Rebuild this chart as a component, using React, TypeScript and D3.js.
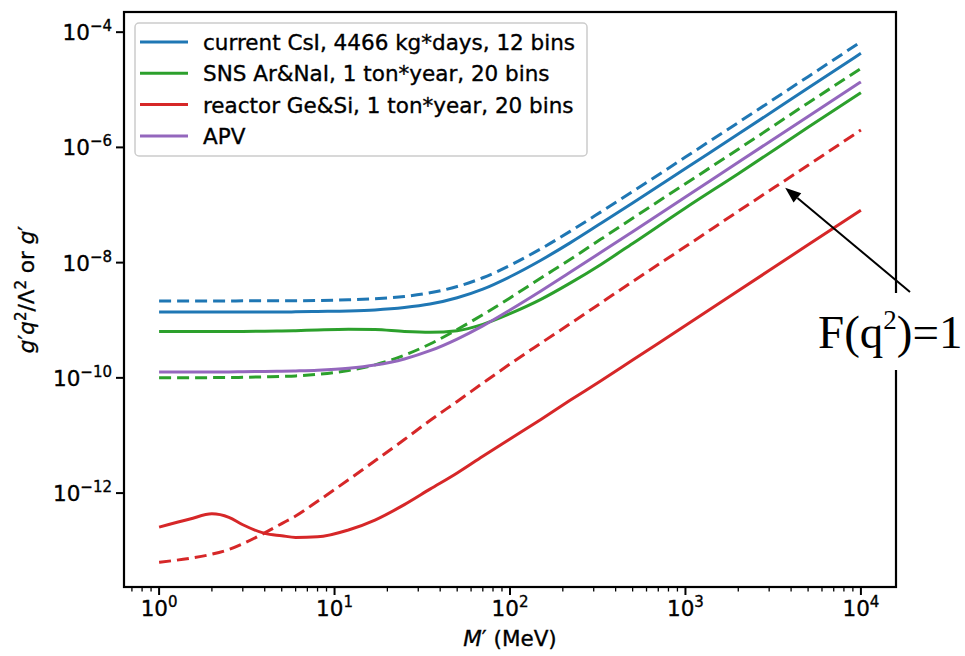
import React from 'react';
import * as d3 from 'd3';

// M' grid (MeV)
const massMeV = [1, 1.5, 2, 2.5, 3, 4, 5, 6, 8, 12, 17, 25, 35, 50, 70, 100, 150, 220, 330, 500, 1000, 2000, 5000, 10000];

const csiSolid = [1.39e-9, 1.39e-9, 1.39e-9, 1.39e-9, 1.39e-9, 1.39e-9, 1.39e-9, 1.40e-9, 1.42e-9, 1.45e-9, 1.51e-9, 1.66e-9, 1.91e-9, 2.46e-9, 3.47e-9, 5.69e-9, 1.10e-8, 2.2e-8, 4.81e-8, 1.08e-7, 4.3e-7, 1.7e-6, 1.07e-5, 4.3e-5];
const csiDashed = [2.16e-9, 2.16e-9, 2.16e-9, 2.16e-9, 2.17e-9, 2.17e-9, 2.17e-9, 2.18e-9, 2.20e-9, 2.26e-9, 2.36e-9, 2.58e-9, 2.99e-9, 3.85e-9, 5.46e-9, 8.96e-9, 1.74e-8, 3.49e-8, 7.6e-8, 1.71e-7, 6.8e-7, 2.7e-6, 1.69e-5, 6.8e-5];
const snsSolid = [6.4e-10, 6.4e-10, 6.4e-10, 6.4e-10, 6.4e-10, 6.45e-10, 6.5e-10, 6.6e-10, 6.8e-10, 7.0e-10, 6.9e-10, 6.4e-10, 6.2e-10, 6.6e-10, 8.5e-10, 1.3e-9, 2.3e-9, 4.4e-9, 9.3e-9, 2.15e-8, 8.9e-8, 3.5e-7, 2.23e-6, 8.9e-6];
const snsDashed = [1.0e-10, 1.0e-10, 1.01e-10, 1.01e-10, 1.02e-10, 1.04e-10, 1.06e-10, 1.08e-10, 1.15e-10, 1.34e-10, 1.68e-10, 2.47e-10, 3.87e-10, 6.9e-10, 1.25e-9, 2.44e-9, 5.4e-9, 1.13e-8, 2.56e-8, 5.9e-8, 2.34e-7, 9.3e-7, 5.9e-6, 2.34e-5];
const reactorSolid = [2.57e-13, 3.55e-13, 4.37e-13, 3.8e-13, 2.82e-13, 2.0e-13, 1.82e-13, 1.7e-13, 1.74e-13, 2.29e-13, 3.4e-13, 6.3e-13, 1.17e-12, 2.24e-12, 4.37e-12, 8.7e-12, 1.9e-11, 4.07e-11, 8.9e-11, 2.04e-10, 8.1e-10, 3.24e-9, 2.04e-8, 8.1e-8];
const reactorDashed = [6.3e-14, 7.4e-14, 8.7e-14, 1.05e-13, 1.32e-13, 2.04e-13, 2.95e-13, 4.0e-13, 7.2e-13, 1.7e-12, 3.63e-12, 8.5e-12, 1.82e-11, 3.9e-11, 8.1e-11, 1.74e-10, 4.0e-10, 8.7e-10, 2.0e-9, 4.7e-9, 1.9e-8, 7.8e-8, 4.9e-7, 2.0e-6];
const apv = [1.27e-10, 1.27e-10, 1.27e-10, 1.27e-10, 1.28e-10, 1.29e-10, 1.30e-10, 1.32e-10, 1.36e-10, 1.47e-10, 1.67e-10, 2.13e-10, 2.96e-10, 4.72e-10, 8.0e-10, 1.51e-9, 3.23e-9, 6.8e-9, 1.51e-8, 3.45e-8, 1.38e-7, 5.5e-7, 3.45e-6, 1.37e-5];

const legendLabels = [
  'current CsI, 4466 kg*days, 12 bins',
  'SNS Ar&NaI, 1 ton*year, 20 bins',
  'reactor Ge&Si, 1 ton*year, 20 bins',
  'APV',
];
const legendColors = ['#1f77b4', '#2ca02c', '#d62728', '#9467bd'];

const xTickExps = [0, 1, 2, 3, 4];
const yTickExps = [-4, -6, -8, -10, -12];

const W = 965;
const H = 656;
const L = 124, R = 896, T = 12, B = 587;

export default function App() {
  const x = d3.scaleLog().domain([Math.pow(10, -0.2), Math.pow(10, 4.2)]).range([L, R]);
  const y = d3.scaleLog().domain([Math.pow(10, -13.63), Math.pow(10, -3.65)]).range([B, T]);

  const line = (vals: number[]) =>
    d3.line<number>()
      .x((_, i) => x(massMeV[i]))
      .y((v) => y(v))
      .curve(d3.curveMonotoneX)(vals) as string;

  const series = [
    { vals: csiDashed, color: legendColors[0], dashed: true },
    { vals: csiSolid, color: legendColors[0], dashed: false },
    { vals: snsDashed, color: legendColors[1], dashed: true },
    { vals: snsSolid, color: legendColors[1], dashed: false },
    { vals: reactorDashed, color: legendColors[2], dashed: true },
    { vals: reactorSolid, color: legendColors[2], dashed: false },
    { vals: apv, color: legendColors[3], dashed: false },
  ];

  const minorX: number[] = [];
  for (let e = -1; e <= 4; e++) {
    for (let m = 2; m <= 9; m++) {
      const v = m * Math.pow(10, e);
      const px = x(v);
      if (px >= L && px <= R) minorX.push(v);
    }
  }

  const font = 'DejaVu Sans, sans-serif';
  const fs = 21.5;
  const sup = 15;
  const textStroke = { stroke: '#000', strokeWidth: 0.35 };

  // annotation: arrow head at data point near reactor dashed curve
  const headX = x(3700);
  const headY = y(2.0e-7);
  const tailX = 910, tailY = 292;
  const ang = Math.atan2(headY - tailY, headX - tailX);
  const ah = 16, aw = 6;
  const bx = headX - ah * Math.cos(ang), by = headY - ah * Math.sin(ang);
  const p1 = [bx + aw * Math.sin(ang), by - aw * Math.cos(ang)];
  const p2 = [bx - aw * Math.sin(ang), by + aw * Math.cos(ang)];

  return (
    <svg width={W} height={H} style={{ position: 'absolute', left: 0, top: 0, background: '#fff' }} fontFamily={font}>
      <rect x={0} y={0} width={W} height={H} fill="#fff" />
      <defs>
        <clipPath id="plotclip">
          <rect x={L} y={T} width={R - L} height={B - T} />
        </clipPath>
      </defs>
      <g clipPath="url(#plotclip)">
        {series.map((s, i) => (
          <path key={i} d={line(s.vals)} fill="none" stroke={s.color} strokeWidth={3}
            strokeDasharray={s.dashed ? '12,6' : undefined} />
        ))}
      </g>

      {/* legend */}
      <rect x={135} y={23} width={452} height={133} rx={4} fill="#fff" fillOpacity={0.8} stroke="#cccccc" strokeWidth={1.5} />
      {legendLabels.map((lab, i) => {
        const ly = 42 + i * 31.3;
        return (
          <g key={lab}>
            <line x1={140} x2={188} y1={ly} y2={ly} stroke={legendColors[i]} strokeWidth={3} />
            <text x={203} y={ly + 8} fontSize={fs} fill="#000" {...textStroke}>{lab}</text>
          </g>
        );
      })}

      {/* frame */}
      <rect x={L} y={T} width={R - L} height={B - T} fill="none" stroke="#000" strokeWidth={2.2} />

      {/* x ticks */}
      {xTickExps.map((e) => {
        const px = x(Math.pow(10, e));
        return (
          <g key={'x' + e}>
            <line x1={px} x2={px} y1={B} y2={B + 8} stroke="#000" strokeWidth={2} />
            <text x={px} y={616} textAnchor="middle" fontSize={fs} {...textStroke}>
              10<tspan dy={-9} fontSize={sup}>{e}</tspan>
            </text>
          </g>
        );
      })}
      {minorX.map((v, i) => (
        <line key={'mx' + i} x1={x(v)} x2={x(v)} y1={B} y2={B + 4.5} stroke="#000" strokeWidth={1.3} />
      ))}

      {/* y ticks */}
      {yTickExps.map((e) => {
        const py = y(Math.pow(10, e));
        return (
          <g key={'y' + e}>
            <line x1={L - 8} x2={L} y1={py} y2={py} stroke="#000" strokeWidth={2} />
            <text x={112} y={py + 8} textAnchor="end" fontSize={fs} {...textStroke}>
              10<tspan dy={-9} fontSize={sup}>{'\u2212' + Math.abs(e)}</tspan>
            </text>
          </g>
        );
      })}

      {/* axis labels */}
      <text x={(L + R) / 2} y={646} textAnchor="middle" fontSize={fs} {...textStroke}>
        <tspan fontStyle="italic">M</tspan>′ (MeV)
      </text>
      <text transform={`translate(34, ${(T + B) / 2 - 10}) rotate(-90)`} textAnchor="middle" fontSize={fs} {...textStroke}>
        <tspan fontStyle="italic">g</tspan>′<tspan fontStyle="italic">q</tspan>
        <tspan dy={-8} fontSize={sup}>2</tspan>
        <tspan dy={8}>/Λ</tspan>
        <tspan dy={-8} fontSize={sup}>2</tspan>
        <tspan dy={8}> or </tspan>
        <tspan fontStyle="italic">g</tspan>′
      </text>

      {/* annotation */}
      <line x1={tailX} y1={tailY} x2={bx} y2={by} stroke="#000" strokeWidth={2} />
      <polygon points={`${headX},${headY} ${p1[0]},${p1[1]} ${p2[0]},${p2[1]}`} fill="#000" />
      <rect x={812} y={293} width={153} height={77} fill="#fff" />
      <text x={818} y={348} fontSize={47} fontFamily="Liberation Serif, Times New Roman, serif">
        F(q<tspan dy={-19} fontSize={27}>2</tspan><tspan dy={19}>)=1</tspan>
      </text>
    </svg>
  );
}
